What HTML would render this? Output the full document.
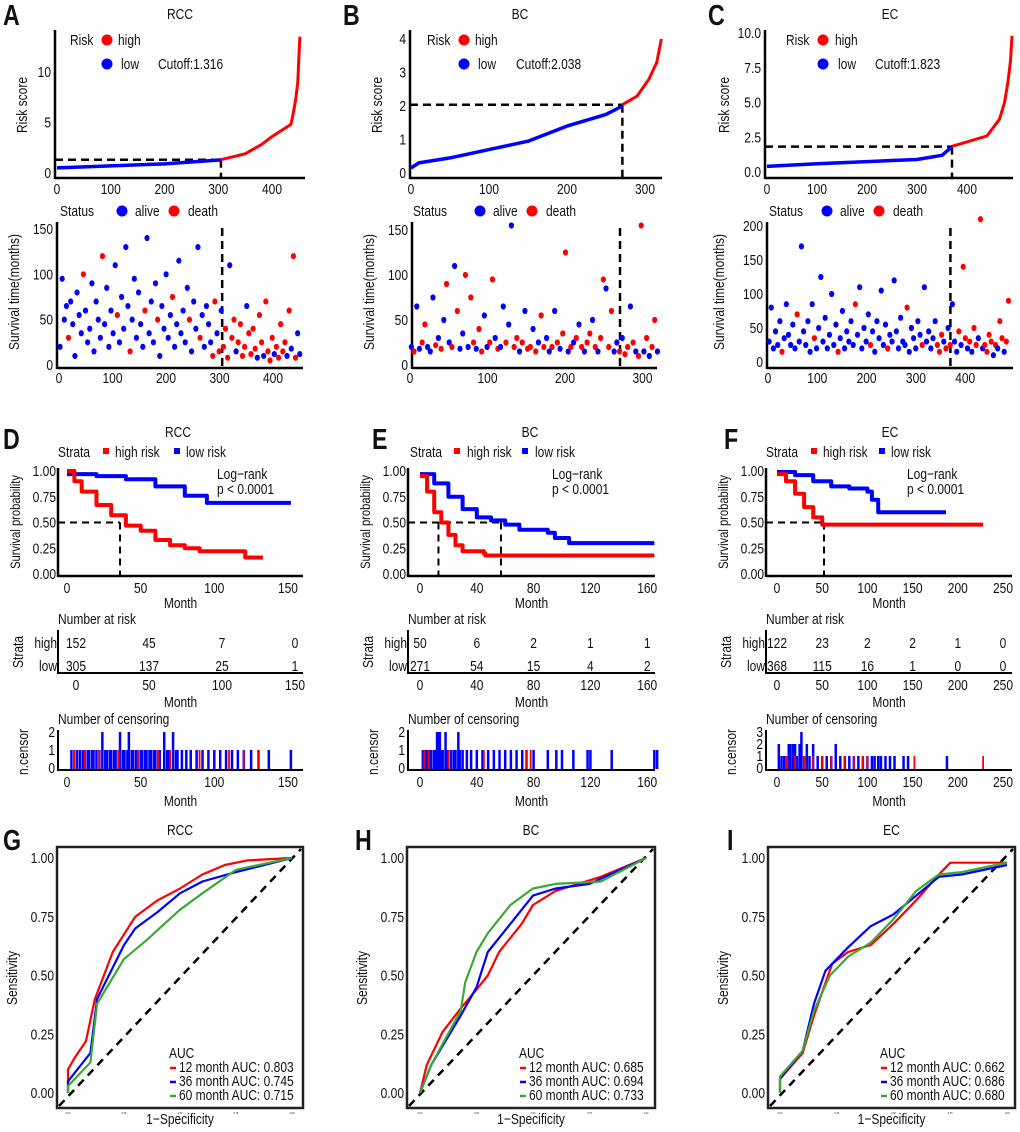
<!DOCTYPE html>
<html><head><meta charset="utf-8"><style>
html,body{margin:0;padding:0;background:#fff}
svg{display:block;font-family:"Liberation Sans",Arial,sans-serif}
</style></head><body>
<svg id="fig" width="1020" height="1132" viewBox="0 0 1020 1132" xmlns="http://www.w3.org/2000/svg"></svg>
<script>
// ---------- DATA ----------
const panelTitles = ["RCC","BC","EC"];
const cutoffs = [1.316, 2.038, 1.823];
const cutIdx = [305, 271, 370];
const nSamples = [452, 321, 490];
const riskLowRCC = [[0,0.5],[50,0.6],[100,0.7],[200,0.9],[305,1.3]];
const riskHighRCC = [[305,1.32],[350,1.9],[380,2.8],[400,3.6],[435,4.8],[438,5.5],[444,7.2],[448,9],[450,11.5],[452,13.5]];
const riskLowBC = [[0,0.15],[10,0.3],[50,0.45],[100,0.7],[150,0.95],[200,1.4],[250,1.75],[271,2.0]];
const riskHighBC = [[271,2.04],[290,2.3],[305,2.8],[315,3.3],[321,4.0]];
const riskLowEC = [[0,0.4],[100,0.6],[200,0.75],[300,0.9],[350,1.2],[370,1.82]];
const riskHighEC = [[370,1.85],[440,2.6],[465,3.8],[475,5],[482,6.5],[487,8],[490,9.8]];
const survRCC = [20,95,50,65,30,70,45,10,80,55,35,100,60,25,40,90,15,70,50,30,120,45,85,20,60,35,110,55,25,75,40,130,65,15,50,95,30,80,45,20,60,140,35,70,25,90,50,10,65,40,100,30,55,75,20,45,115,35,60,25,85,50,15,70,40,130,30,55,20,65,45,25,10,70,35,15,60,20,40,8,110,30,50,15,25,45,10,20,65,35,12,40,18,8,55,25,10,70,15,5,30,12,20,8,45,15,25,10,60,18,120,8,35,12];
const statRCC = "0000100000010000000010000001000001000000100000100000010000000100001000001101011101101111011110110111101111101011";
const survBC = [20,15,65,18,25,45,20,15,75,22,30,18,50,90,25,20,110,60,18,35,100,20,75,25,18,40,15,55,20,25,95,30,18,20,65,25,45,155,20,30,15,25,60,18,20,40,15,25,55,20,30,15,20,60,25,18,35,125,15,20,25,30,45,20,15,25,35,50,20,15,30,95,85,20,60,15,25,15,30,12,20,65,25,15,10,155,15,30,10,20,50,15];
const statBC = "01001100010101010100101101100110100100110101101011001010110101010110101101100101101011010110";
const survEC = [30,80,20,45,25,60,15,35,85,40,25,55,20,70,30,170,45,25,60,15,85,35,20,50,125,30,65,20,40,100,25,55,15,35,75,20,45,30,60,25,85,40,110,20,50,30,70,25,45,15,60,35,105,25,55,20,40,30,120,45,20,65,30,25,80,15,50,35,20,60,40,25,110,30,45,20,35,60,25,15,40,30,20,50,25,85,30,15,45,25,140,35,20,30,15,50,25,35,210,20,25,15,40,30,10,25,20,60,35,15,30,90];
const statEC = "0000001000000100000001000000000010000000100000010000000100000000100000010000001110101000101101011010111101011011";
const kmHighRCC = [[0,1],[5,0.9],[10,0.8],[20,0.67],[30,0.57],[40,0.47],[50,0.42],[60,0.33],[70,0.28],[80,0.25],[90,0.22],[120,0.22],[121,0.16],[133,0.16]];
const kmLowRCC = [[0,0.97],[20,0.95],[40,0.92],[60,0.85],[80,0.76],[95,0.69],[152,0.69]];
const kmHighBC = [[0,0.95],[5,0.8],[10,0.6],[15,0.5],[20,0.38],[25,0.28],[30,0.22],[45,0.2],[46,0.18],[165,0.18]];
const kmLowBC = [[0,0.97],[10,0.88],[20,0.75],[30,0.63],[40,0.55],[50,0.52],[60,0.48],[70,0.43],[90,0.4],[95,0.35],[105,0.3],[165,0.3]];
const kmHighEC = [[0,0.97],[10,0.9],[20,0.78],[30,0.65],[40,0.55],[50,0.48],[228,0.48]];
const kmLowEC = [[0,0.99],[20,0.96],[40,0.9],[60,0.85],[80,0.83],[100,0.8],[105,0.72],[112,0.6],[187,0.6]];
const medians = [[36],[13,57],[52]];
const riskTicks = [[0,50,100,150],[0,40,80,120,160],[0,50,100,150,200,250]];
const atRiskHigh = [[152,45,7,0],[50,6,2,1,1],[122,23,2,2,1,0]];
const atRiskLow = [[305,137,25,1],[271,54,15,4,2],[368,115,16,1,0,0]];
const censLowRCC = [3,5,7,9,11,12,14,15,17,18,20,22,24,26,27,29,30,32,33,35,36,38,39,41,42,44,45,47,48,50,51,53,54,56,57,59,60,62,63,66,68,69,72,74,75,78,81,84,88,92,96,100,104,108,112,116,120,125,130,137,152];
const censLowRCCn = [1,1,1,1,1,1,1,1,1,1,1,1,2,1,1,1,1,1,1,1,2,1,1,1,2,1,1,1,1,1,1,1,1,1,1,1,1,1,1,2,1,1,2,1,1,1,1,1,1,1,1,1,1,1,1,1,1,1,1,1,1];
const censHighRCC = [5,12,22,35,48,62,70,90,110,120,130];
const censLowBC = [2,4,5,7,8,10,11,12,13,14,15,16,18,19,20,22,24,25,27,28,30,33,36,40,44,48,52,56,60,64,68,72,75,80,90,96,100,108,118,120,135,165,167];
const censLowBCn = [1,1,1,1,1,1,1,2,2,2,1,1,2,1,1,1,1,1,2,1,1,1,1,1,1,1,1,1,1,1,1,1,1,1,1,1,1,1,1,1,1,1,1];
const censHighBC = [3,6,20,45,75,78];
const censLowEC = [2,5,8,10,13,15,18,20,22,25,27,30,33,36,40,45,50,55,60,65,70,75,80,85,90,95,100,105,108,112,115,120,125,130,140,145,188];
const censLowECn = [2,1,1,1,2,2,2,2,1,2,3,1,2,1,2,1,1,1,1,2,1,1,1,1,1,1,1,1,1,1,1,1,1,1,1,1,1];
const censHighEC = [10,20,30,40,50,60,75,85,95,100,152,228];
const censMax = [2,2,3];
const roc12RCC = [[0,0],[0,0.1],[0.03,0.15],[0.08,0.22],[0.12,0.4],[0.2,0.6],[0.3,0.75],[0.4,0.82],[0.5,0.87],[0.6,0.93],[0.7,0.97],[0.8,0.99],[1,1]];
const roc36RCC = [[0,0],[0,0.05],[0.1,0.17],[0.13,0.4],[0.25,0.63],[0.3,0.7],[0.4,0.77],[0.5,0.85],[0.6,0.9],[0.75,0.94],[1,1]];
const roc60RCC = [[0,0],[0,0.03],[0.1,0.13],[0.13,0.38],[0.25,0.57],[0.35,0.65],[0.5,0.78],[0.6,0.85],[0.75,0.95],[1,1]];
const roc12BC = [[0,0],[0.03,0.12],[0.1,0.26],[0.18,0.36],[0.25,0.44],[0.3,0.5],[0.35,0.6],[0.45,0.72],[0.5,0.8],[0.6,0.86],[0.8,0.92],[1,1]];
const roc36BC = [[0,0],[0.05,0.12],[0.18,0.33],[0.25,0.45],[0.3,0.6],[0.4,0.72],[0.5,0.84],[0.6,0.87],[0.75,0.89],[1,1]];
const roc60BC = [[0,0],[0.05,0.12],[0.18,0.35],[0.2,0.47],[0.25,0.6],[0.3,0.68],[0.4,0.8],[0.5,0.87],[0.6,0.89],[0.8,0.9],[1,1]];
const roc12EC = [[0,0],[0,0.06],[0.1,0.17],[0.15,0.33],[0.23,0.55],[0.3,0.6],[0.4,0.63],[0.5,0.72],[0.6,0.82],[0.7,0.93],[0.75,0.98],[1,0.98]];
const roc36EC = [[0,0],[0,0.06],[0.1,0.18],[0.15,0.38],[0.2,0.52],[0.3,0.62],[0.4,0.71],[0.5,0.76],[0.6,0.84],[0.7,0.92],[0.8,0.93],[1,0.97]];
const roc60EC = [[0,0],[0,0.07],[0.1,0.18],[0.15,0.35],[0.22,0.5],[0.3,0.58],[0.4,0.64],[0.5,0.74],[0.6,0.86],[0.7,0.93],[0.8,0.94],[1,0.98]];
const aucLabels = [["0.803","0.745","0.715"],["0.685","0.694","0.733"],["0.662","0.686","0.680"]];
const aucMonths = ["12","36","60"];
const riskYTicks = [[0,5,10],[0,1,2,3,4],[0,2.5,5,7.5,10]];
const riskXTicks = [[0,100,200,300,400],[0,100,200,300],[0,100,200,300,400]];
const survYTicks = [[0,50,100,150],[0,50,100,150],[0,50,100,150,200]];
const kmYTicks = [0,0.25,0.5,0.75,1];
const rocYTicks = [0,0.25,0.5,0.75,1];

// ---------- HELPERS ----------
const NS = "http://www.w3.org/2000/svg";
const svg = document.getElementById("fig");
const RED = "#ff0000", BLUE = "#0000ff", GREEN = "#3aa935";
const SX = 0.8;
const FS = 15;
function mk(tag, attrs, name, parent) {
  const el = document.createElementNS(NS, tag);
  for (const k in attrs) el.setAttribute(k, attrs[k]);
  
  
  (parent || svg).appendChild(el);
  return el;
}
function txt(x, y, s, name, size, anchor, extra, rot) {
  let tr = "translate(" + x + " " + y + ")" + (rot ? " rotate(-90)" : "") + " scale(" + SX + " 1)";
  const a = Object.assign({x: 0, y: 0, "font-size": (size || FS), "text-anchor": anchor || "start", fill: "#111", transform: tr}, extra || {});
  const t = mk("text", a, name);
  t.textContent = s;
  return t;
}
function vtxt(x, y, s, name, size) {
  return txt(x, y, s, name, size || FS, "middle", null, true);
}
function line(x1, y1, x2, y2, name, stroke, w, dash) {
  const a = {x1: x1, y1: y1, x2: x2, y2: y2, stroke: stroke || "#000", "stroke-width": w || 2};
  if (dash) a["stroke-dasharray"] = dash;
  return mk("line", a, name);
}
function poly(pts, name, stroke, w, extra) {
  return mk("polyline", Object.assign({points: pts.map(p => p[0].toFixed(1) + "," + p[1].toFixed(1)).join(" "), fill: "none", stroke: stroke, "stroke-width": w || 3, "stroke-linejoin": "round"}, extra || {}), name);
}
function fmtTick(v, dec) { return dec ? v.toFixed(dec) : String(v); }

// ---------- TOP PANELS ----------
const topGeo = [
  {letter: "A", lx: 3, title: 180, rx0: 57, rpu: 0.5375, ry0: 173, rpy: 10.1, L: 55, R: 305, sx0: 59, spu: 0.535, sy0: 365, spy: 0.907, sR: 303, dec: 0,
   leg: {risk: 70, dot: 107, hi: 118, lo: 121, cut: 158, st: 60, d1: 122, al: 135, d2: 174, de: 188}},
  {letter: "B", lx: 343, title: 520, rx0: 411, rpu: 0.78, ry0: 173, rpy: 33.5, L: 410, R: 662, sx0: 410, spu: 0.775, sy0: 365, spy: 0.9, sR: 657, dec: 0,
   leg: {risk: 427, dot: 464, hi: 475, lo: 478, cut: 516, st: 413, d1: 480, al: 493, d2: 532, de: 546}},
  {letter: "C", lx: 708, title: 890, rx0: 767, rpu: 0.5, ry0: 172, rpy: 13.9, L: 765, R: 1013, sx0: 768, spu: 0.493, sy0: 362, spy: 0.68, sR: 1013, dec: 1,
   leg: {risk: 786, dot: 823, hi: 835, lo: 838, cut: 875, st: 769, d1: 827, al: 840, d2: 879, de: 893}}
];
const riskLow = [riskLowRCC, riskLowBC, riskLowEC];
const riskHigh = [riskHighRCC, riskHighBC, riskHighEC];
const survs = [survRCC, survBC, survEC];
const stats = [statRCC, statBC, statEC];

topGeo.forEach((g, p) => {
  const xr = v => g.rx0 + v * g.rpu, yr = v => g.ry0 - v * g.rpy;
  txt(g.lx, 25, g.letter, "panel-label-" + g.letter.toLowerCase(), 29, "start", {"font-weight": "bold"});
  txt(g.title, 19, panelTitles[p], "risk-plot-title", FS, "middle");
  line(g.L, 30, g.L, 179, "risk-y-axis", "#000", 2.5);
  line(g.L, 178, g.R, 178, "risk-x-axis", "#000", 2.5);
  riskYTicks[p].forEach(v => { txt(g.L - 4, yr(v) + 5, fmtTick(v, g.dec), "risk-y-tick-label", FS, "end"); });
  riskXTicks[p].forEach(v => { txt(xr(v), 194, String(v), "risk-x-tick-label", FS, "middle"); });
  vtxt(g.L - 28 - (g.dec ? 8 : 0), 105, "Risk score", "risk-y-axis-title");
  line(g.L, yr(cutoffs[p]), xr(cutIdx[p]), yr(cutoffs[p]), "cutoff-horizontal-line", "#000", 2.5, "8,5");
  line(xr(cutIdx[p]), yr(cutoffs[p]), xr(cutIdx[p]), 178, "cutoff-vertical-line", "#000", 2.5, "8,5");
  poly(riskLow[p].map(d => [xr(d[0]), yr(d[1])]), "risk-curve-low", BLUE, 3.5);
  poly(riskHigh[p].map(d => [xr(d[0]), yr(d[1])]), "risk-curve-high", RED, 3);
  const l = g.leg;
  txt(l.risk, 45, "Risk", "risk-legend-title", FS);
  mk("circle", {cx: l.dot, cy: 40, r: 5.5, fill: RED}, "legend-dot-high");
  txt(l.hi, 45, "high", "legend-label-high", FS);
  mk("circle", {cx: l.dot, cy: 64, r: 5.5, fill: BLUE}, "legend-dot-low");
  txt(l.lo, 69, "low", "legend-label-low", FS);
  txt(l.cut, 69, "Cutoff:" + cutoffs[p].toFixed(3), "cutoff-label", FS);
  const xs = v => g.sx0 + v * g.spu, ys = v => g.sy0 - v * g.spy;
  txt(l.st, 216, "Status", "status-legend-title", FS);
  mk("circle", {cx: l.d1, cy: 211, r: 5.5, fill: BLUE}, "legend-dot-alive");
  txt(l.al, 216, "alive", "legend-label-alive", FS);
  mk("circle", {cx: l.d2, cy: 211, r: 5.5, fill: RED}, "legend-dot-death");
  txt(l.de, 216, "death", "legend-label-death", FS);
  line(g.L + 2, 222, g.L + 2, 369, "survival-y-axis", "#000", 2.5);
  line(g.L + 2, 368, g.sR, 368, "survival-x-axis", "#000", 2.5);
  survYTicks[p].forEach(v => { txt(g.L - 2, ys(v) + 5, String(v), "survival-y-tick-label", FS, "end"); });
  riskXTicks[p].forEach(v => { txt(xs(v), 383, String(v), "survival-x-tick-label", FS, "middle"); });
  vtxt(g.L - 36 - (p === 2 ? 5 : 0), 292, "Survival time(months)", "survival-y-axis-title");
  line(xs(cutIdx[p]), 228, xs(cutIdx[p]), 368, "cutoff-vertical-line-scatter", "#000", 2.5, "8,5");
  const arr = survs[p], N = nSamples[p];
  arr.forEach((v, i) => {
    const idx = (i + 0.5) * N / arr.length;
    mk("ellipse", {cx: xs(idx), cy: ys(v), rx: 2.6, ry: 3.1, fill: stats[p][i] === "1" ? RED : BLUE}, "survival-point");
  });
});

// ---------- KM PANELS ----------
const kmGeo = [
  {letter: "D", lx: 3, title: 178, L: 58, R: 303, x0: 67, pu: 1.473, tx0: 76, tpu: 1.46, st: 58, rs: 106, hr: 115, bs: 177, lr: 186, lg: 217},
  {letter: "E", lx: 372, title: 530, L: 408, R: 655, x0: 420, pu: 1.42, tx0: 420, tpu: 1.42, st: 410, rs: 457, hr: 467, bs: 525, lr: 535, lg: 552},
  {letter: "F", lx: 724, title: 890, L: 766, R: 1012, x0: 777, pu: 0.904, tx0: 777, tpu: 0.904, st: 766, rs: 814, hr: 823, bs: 882, lr: 891, lg: 907}
];
const kmHigh = [kmHighRCC, kmHighBC, kmHighEC];
const kmLow = [kmLowRCC, kmLowBC, kmLowEC];
const censLow = [censLowRCC, censLowBC, censLowEC];
const censLowN = [censLowRCCn, censLowBCn, censLowECn];
const censHigh = [censHighRCC, censHighBC, censHighEC];
function stepPts(d, xf, yf) {
  const out = [];
  d.forEach((p, i) => {
    if (i > 0) out.push([xf(p[0]), yf(d[i - 1][1])]);
    out.push([xf(p[0]), yf(p[1])]);
  });
  return out;
}
kmGeo.forEach((g, p) => {
  const xk = v => g.x0 + v * g.pu, yk = v => 574 - v * 103;
  txt(g.lx, 449, g.letter, "panel-label-" + g.letter.toLowerCase(), 29, "start", {"font-weight": "bold"});
  txt(g.title, 437, panelTitles[p], "km-title", FS, "middle");
  txt(g.st, 457, "Strata", "strata-legend-title", FS);
  mk("rect", {x: g.rs - 3, y: 448, width: 6, height: 6, fill: RED}, "legend-key-high-risk");
  txt(g.hr, 457, "high risk", "legend-label-high-risk", FS);
  mk("rect", {x: g.bs - 3, y: 448, width: 6, height: 6, fill: BLUE}, "legend-key-low-risk");
  txt(g.lr, 457, "low risk", "legend-label-low-risk", FS);
  line(g.L, 468, g.L, 577, "km-y-axis", "#000", 2.5);
  line(g.L, 576, g.R, 576, "km-x-axis", "#000", 2.5);
  kmYTicks.forEach(v => { txt(g.L - 2, yk(v) + 5, v.toFixed(2), "km-y-tick-label", FS, "end"); });
  riskTicks[p].forEach(v => { txt(xk(v), 593, String(v), "km-x-tick-label", FS, "middle"); });
  txt((g.L + g.R) / 2, 608, "Month", "km-x-axis-title", FS, "middle");
  vtxt(g.L - 38, 522, "Survival probability", "km-y-axis-title", 14);
  txt(g.lg, 479, "Log\u2212rank", "logrank-label", FS);
  txt(g.lg, 494, "p < 0.0001", "logrank-p-value", FS);
  medians[p].forEach(m => {
    line(g.L, yk(0.5), xk(m), yk(0.5), "median-horizontal-line", "#000", 2, "7,5");
    line(xk(m), yk(0.5), xk(m), 576, "median-vertical-line", "#000", 2, "7,5");
  });
  poly(stepPts(kmLow[p], xk, yk), "km-curve-low-risk", BLUE, 4);
  poly(stepPts(kmHigh[p], xk, yk), "km-curve-high-risk", RED, 4);
  const xt = v => g.tx0 + v * g.tpu;
  txt(g.L, 624, "Number at risk", "risk-table-title", FS);
  line(g.L, 630, g.L, 674, "risk-table-y-axis", "#000", 2);
  line(g.L, 673, g.R, 673, "risk-table-x-axis", "#000", 2);
  txt(g.L - 1, 648, "high", "risk-table-row-high", FS, "end");
  txt(g.L - 1, 671, "low", "risk-table-row-low", FS, "end");
  vtxt(g.L - 35, 652, "Strata", "risk-table-y-title", FS);
  riskTicks[p].forEach((v, i) => {
    txt(xt(v), 648, String(atRiskHigh[p][i]), "at-risk-high-value", FS, "middle");
    txt(xt(v), 671, String(atRiskLow[p][i]), "at-risk-low-value", FS, "middle");
    txt(xt(v), 690, String(v), "risk-table-x-tick-label", FS, "middle");
  });
  txt((g.L + g.R) / 2, 707, "Month", "risk-table-x-axis-title", FS, "middle");
  const yc = v => 768 - v * 36 / censMax[p];
  txt(g.L, 724, "Number of censoring", "censoring-title", FS);
  line(g.L, 730, g.L, 771, "censor-y-axis", "#000", 2);
  line(g.L, 770, g.R, 770, "censor-x-axis", "#000", 2);
  for (let v = 0; v <= censMax[p]; v++) txt(g.L - 3, yc(v) + 5, String(v), "censor-y-tick-label", FS, "end");
  vtxt(g.L - 30, 752, "n.censor", "censor-y-axis-title", FS);
  censLow[p].forEach((t, i) => { line(xk(t), 769, xk(t), yc(censLowN[p][i]), "censor-bar-low", BLUE, 2.5); });
  censHigh[p].forEach(t => { line(xk(t), 769, xk(t), yc(1), "censor-bar-high", RED, 1.8); });
  riskTicks[p].forEach(v => { txt(xk(v), 787, String(v), "censor-x-tick-label", FS, "middle"); });
  txt((g.L + g.R) / 2, 806, "Month", "censor-x-axis-title", FS, "middle");
});

// ---------- ROC PANELS ----------
const rocGeo = [
  {letter: "G", lx: 3, L: 57, R: 303, x0: 68, x1: 292},
  {letter: "H", lx: 355, L: 407, R: 655, x0: 420, x1: 646},
  {letter: "I", lx: 727, L: 768, R: 1015, x0: 780, x1: 1007}
];
const rocs = [[roc12RCC, roc36RCC, roc60RCC], [roc12BC, roc36BC, roc60BC], [roc12EC, roc36EC, roc60EC]];
const rocColors = [RED, BLUE, GREEN];
rocGeo.forEach((g, p) => {
  const xf = v => g.x0 + v * (g.x1 - g.x0), yf = v => 1093 - v * 235;
  txt(g.lx, 850, g.letter, "panel-label-" + g.letter.toLowerCase(), 29, "start", {"font-weight": "bold"});
  txt((g.L + g.R) / 2, 835, panelTitles[p], "roc-title", FS, "middle");
  mk("rect", {x: g.L, y: 847, width: g.R - g.L, height: 261, fill: "none", stroke: "#222", "stroke-width": 2.5}, "roc-plot-frame");
  rocYTicks.forEach(v => { txt(g.L - 3, yf(v) + 5, v.toFixed(2), "roc-y-tick-label", FS, "end"); });
  rocYTicks.forEach(v => { txt(xf(v), 1114, v.toFixed(2), "roc-x-tick-label", 3, "middle"); });
  vtxt(g.L - 40, 978, "Sensitivity", "roc-y-axis-title", FS);
  txt((g.L + g.R) / 2, 1124, "1\u2212Specificity", "roc-x-axis-title", FS, "middle");
  line(g.L + 2, 1106, g.R - 2, 849, "roc-diagonal", "#000", 2.5, "8,6");
  rocs[p].forEach((c, k) => { poly(c.map(d => [xf(d[0]), yf(d[1])]), "roc-curve-" + aucMonths[k] + "-month", rocColors[k], 2.2); });
  txt(g.L + 112, 1058, "AUC", "auc-legend-title", FS);
  aucMonths.forEach((m, k) => {
    const y = 1072 + k * 14;
    line(g.L + 113, y - 4, g.L + 119, y - 4, "auc-legend-key", rocColors[k], 2.5);
    txt(g.L + 122, y, m + " month AUC: " + aucLabels[p][k], "auc-legend-entry", FS);
  });
});
</script>
</body></html>
